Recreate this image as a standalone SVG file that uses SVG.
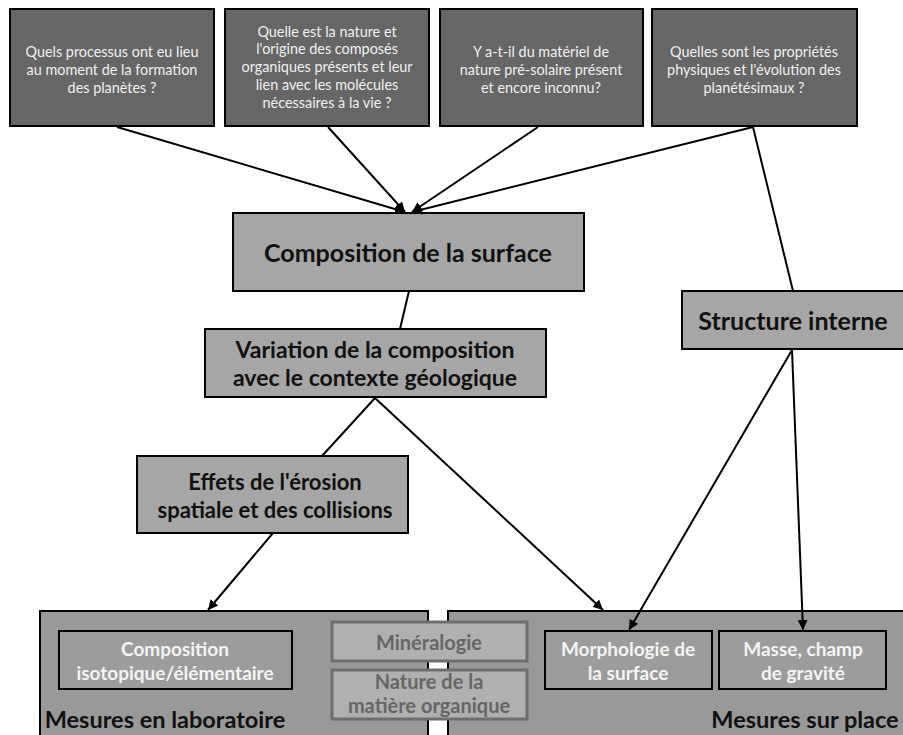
<svg xmlns="http://www.w3.org/2000/svg" width="903" height="735" viewBox="0 0 903 735">
<defs>
<marker id="ah" viewBox="0 0 10 10" refX="10" refY="5" markerWidth="10" markerHeight="10" markerUnits="userSpaceOnUse" orient="auto">
<path d="M0,0 L10,5 L0,10 z" fill="#000"/>
</marker>
<style>
text{font-family:Lato,"Open Sans","Liberation Sans",sans-serif;text-anchor:middle}
.q rect{fill:#666;stroke:#000;stroke-width:2}
.q text{fill:#f0f0f0;font-size:14.4px}
.m rect{fill:#a6a6a6;stroke:#000;stroke-width:2}
.m text{fill:#111;font-weight:bold}
.big rect{fill:#999;stroke:#000;stroke-width:2}
.big text{fill:#111;font-size:23.5px;font-weight:bold}
.in rect{fill:#9c9c9c;stroke:#000;stroke-width:2}
.in text{fill:#f4f4f4;font-size:19px;font-weight:bold}
.gr rect{fill:#b0b0b0;stroke:#6e6e6e;stroke-width:3}
.gr text{fill:#666;font-size:20px;font-weight:bold}
.c line{stroke:#000;stroke-width:2}
</style>
</defs>
<rect width="903" height="735" fill="#fff"/>

<g id="q1" class="q"><rect x="10" y="9" width="204" height="117"/>
<text x="112" y="57">Quels processus ont eu lieu</text>
<text x="112" y="75">au moment de la formation</text>
<text x="112" y="93">des planètes ?</text></g>

<g id="q2" class="q"><rect x="225" y="9" width="204" height="117"/>
<text x="327" y="37">Quelle est la nature et</text>
<text x="327" y="54">l'origine des composés</text>
<text x="327" y="72">organiques présents et leur</text>
<text x="327" y="90">lien avec les molécules</text>
<text x="327" y="108">nécessaires à la vie ?</text></g>

<g id="q3" class="q"><rect x="440" y="9" width="203" height="117"/>
<text x="541" y="57">Y a-t-il du matériel de</text>
<text x="541" y="75">nature pré-solaire présent</text>
<text x="541" y="93">et encore inconnu?</text></g>

<g id="q4" class="q"><rect x="652" y="9" width="205" height="117"/>
<text x="754" y="57">Quelles sont les propriétés</text>
<text x="754" y="75">physiques et l'évolution des</text>
<text x="754" y="93">planétésimaux ?</text></g>

<g id="lab" class="big"><rect x="40" y="611" width="388" height="140"/>
<text x="165" y="728">Mesures en laboratoire</text></g>

<g id="place" class="big"><rect x="448" y="611" width="470" height="140"/>
<text x="805" y="728">Mesures sur place</text></g>

<g id="surface" class="m"><rect x="233" y="213" width="351" height="78"/>
<text x="408" y="262" font-size="25">Composition  de la surface</text></g>

<g id="variation" class="m"><rect x="205" y="329" width="341" height="68"/>
<text x="375" y="358" font-size="23">Variation de la composition</text>
<text x="375" y="386" font-size="23">avec le contexte géologique</text></g>

<g id="structure" class="m"><rect x="682" y="291" width="230" height="58"/>
<text x="793" y="330" font-size="25">Structure interne</text></g>

<g id="effets" class="m"><rect x="137" y="456" width="271" height="77"/>
<text x="275" y="490" font-size="22">Effets de l'érosion</text>
<text x="275" y="518" font-size="22">spatiale et des collisions</text></g>

<g id="iso" class="in"><rect x="59" y="631" width="233" height="58"/>
<text x="175" y="656" font-size="18">Composition</text>
<text x="175" y="680" font-size="18">isotopique/élémentaire</text></g>

<g id="mineralogie" class="gr"><rect x="332" y="622" width="195" height="39"/>
<text x="429" y="650">Minéralogie</text></g>

<g id="organique" class="gr"><rect x="332" y="670" width="195" height="49"/>
<text x="429" y="689">Nature de la</text>
<text x="429" y="713">matière organique</text></g>

<g id="morpho" class="in"><rect x="545" y="631" width="167" height="58"/>
<text x="628" y="656">Morphologie de</text>
<text x="628" y="680">la surface</text></g>

<g id="masse" class="in"><rect x="719" y="631" width="167" height="58"/>
<text x="803" y="656">Masse, champ</text>
<text x="803" y="680">de gravité</text></g>

<g id="connectors" class="c">
<line x1="117" y1="127" x2="405" y2="212" marker-end="url(#ah)"/>
<line x1="328" y1="127" x2="405" y2="212" marker-end="url(#ah)"/>
<line x1="538" y1="127" x2="412" y2="212" marker-end="url(#ah)"/>
<line x1="753" y1="127" x2="412" y2="212" marker-end="url(#ah)"/>
<line x1="753" y1="127" x2="793" y2="291"/>
<line x1="409" y1="291" x2="400" y2="329"/>
<line x1="375" y1="398" x2="322" y2="456"/>
<line x1="375" y1="398" x2="603" y2="610" marker-end="url(#ah)"/>
<line x1="273" y1="533" x2="208" y2="610" marker-end="url(#ah)"/>
<line x1="792" y1="350" x2="629" y2="630" marker-end="url(#ah)"/>
<line x1="792" y1="350" x2="803" y2="630" marker-end="url(#ah)"/>
</g>
</svg>
